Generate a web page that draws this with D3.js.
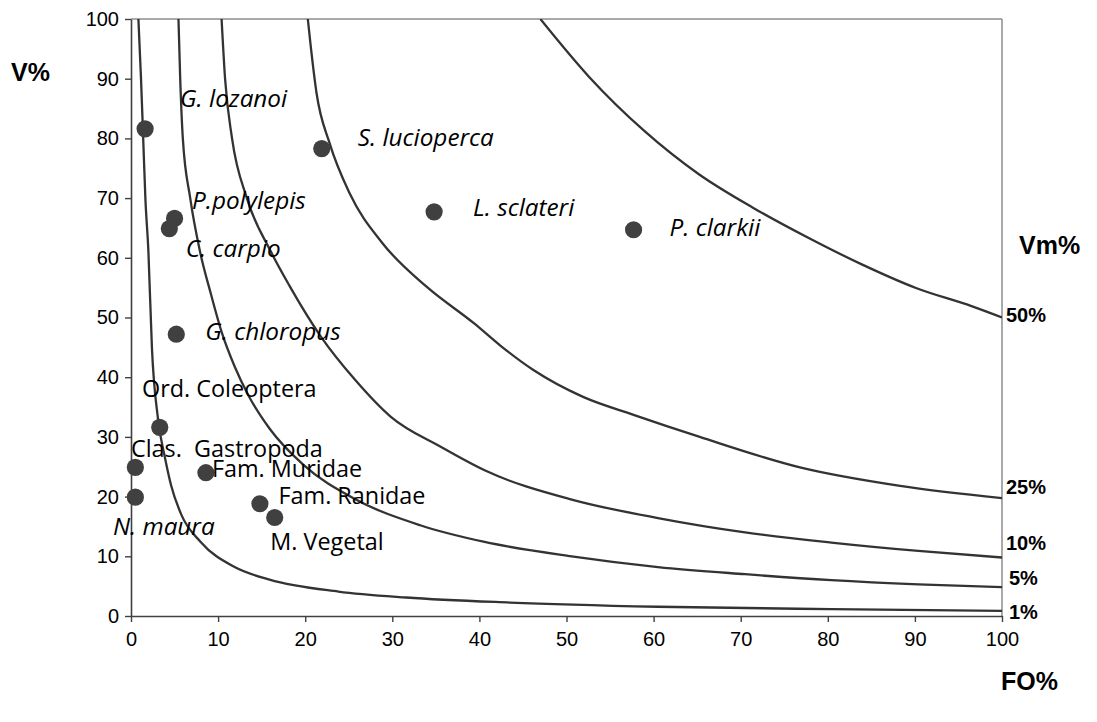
<!DOCTYPE html>
<html>
<head>
<meta charset="utf-8">
<script src="https://cdn.jsdelivr.net/npm/d3@7"></script>
<style>
  html, body { margin: 0; padding: 0; background: #fff; }
  svg { display: block; }
</style>
</head>
<body>
<svg id="chart" width="1097" height="722"></svg>
<script>
// Prey items: frequency of occurrence (FO%) and volume (V%)
const preyNames = ["G. lozanoi", "S. lucioperca", "L. sclateri", "P. clarkii", "P.polylepis",
  "C. carpio", "G. chloropus", "Ord. Coleoptera", "Clas.  Gastropoda", "Fam. Muridae",
  "Fam. Ranidae", "M. Vegetal", "N. maura"];
const preyFO = [1.62, 21.9, 34.8, 57.7, 5.0, 4.4, 5.2, 3.3, 0.5, 8.6, 14.8, 16.5, 0.5];
const preyV = [81.6, 78.3, 67.7, 64.7, 66.6, 64.9, 47.2, 31.6, 24.9, 24.0, 18.8, 16.5, 19.9];
const preyItalic = [true, true, true, true, true, true, true, false, false, false, false, false, true];

// Iso-lines of Vm% (FO, V pairs)
const vm50FO = [47, 52.6, 58.9, 65.2, 71.4, 77.7, 83.9, 90.2, 96.5, 100];
const vm50V = [100, 90.3, 81.3, 74.0, 68.4, 63.4, 58.9, 54.9, 51.9, 50];
const vm25FO = [20.3, 20.6, 21.3, 22.8, 25.1, 28.9, 33.9, 39.4, 42.4, 46.2, 51.9, 57.7, 65.3, 76.8, 88.3, 100];
const vm25V = [100, 95.9, 87.6, 79.2, 70.8, 62.4, 55.2, 49.0, 45.3, 41.2, 36.7, 33.7, 30.0, 24.9, 21.8, 19.75];
const vm10FO = [10.4, 10.8, 11.6, 13.3, 16.0, 18.2, 21.8, 25.7, 29.8, 35.6, 40.6, 50.6, 60.5, 70.5, 80.4, 90.4, 100];
const vm10V = [100, 90, 80, 70, 61.2, 55.3, 46.8, 39.6, 33.4, 28.3, 24.4, 19.5, 16.4, 14.0, 12.3, 10.9, 9.8];
const vm5FO = [5.45, 5.65, 5.95, 6.8, 7.9, 9.2, 10.4, 11.9, 13.5, 15.9, 19.8, 25.7, 33.2, 40.6, 50.6, 60.5, 70.5, 80.4, 90.4, 100];
const vm5V = [100, 90, 80, 70, 61.2, 53.8, 47.6, 41.8, 36.9, 31.4, 25.3, 19.6, 15.2, 12.4, 10.0, 8.2, 7.0, 6.0, 5.3, 4.85];
const vm1FO = [0.85, 1.15, 1.4, 1.65, 2.0, 2.4, 3.1, 3.9, 4.6, 5.8, 8.0, 11.9, 15.9, 23.8, 31.6, 43.5, 60.5, 80.4, 100];
const vm1V = [100, 90, 80, 70, 61, 45, 33, 26.5, 21.9, 16.9, 12.4, 8.2, 6.1, 4.1, 3.1, 2.25, 1.55, 1.15, 0.85];
const vmLabels = ["50%", "25%", "10%", "5%", "1%"];

const xTicks = [0, 10, 20, 30, 40, 50, 60, 70, 80, 90, 100];
const yTicks = [0, 10, 20, 30, 40, 50, 60, 70, 80, 90, 100];

// Label placement relative to each point (px)
const labelOffsets = [[35, -22], [36, -2.5], [39, 4], [36, 6.5], [17.5, -9.5], [16.5, 28.5],
  [29, 6], [-17.7, -30], [-4.4, -10], [6, 4.5], [18.5, 0], [-4.5, 32.5], [-22.4, 38]];

const svg = d3.select("#chart");
const plotLeft = 131, plotRight = 1002, plotTop = 19, plotBottom = 616;

const x = d3.scaleLinear().domain([0, 100]).range([plotLeft, plotRight]);
const y = d3.scaleLinear().domain([0, 100]).range([plotBottom, plotTop]);

const axisFont = "'Liberation Sans', Arial, sans-serif";
const labelFont = "'Open Sans', 'Noto Sans', sans-serif";

// Top and right borders
svg.append("line").attr("x1", plotLeft).attr("x2", plotRight).attr("y1", plotTop).attr("y2", plotTop)
  .attr("stroke", "#8c8c8c").attr("stroke-width", 1.5);
svg.append("line").attr("x1", plotRight).attr("x2", plotRight).attr("y1", plotTop).attr("y2", plotBottom)
  .attr("stroke", "#8c8c8c").attr("stroke-width", 1.5);

// Axes
const gx = svg.append("g").attr("transform", `translate(0,${plotBottom})`)
  .call(d3.axisBottom(x).tickValues(xTicks).tickSize(6).tickSizeOuter(0).tickPadding(10));
const gy = svg.append("g").attr("transform", `translate(${plotLeft},0)`)
  .call(d3.axisLeft(y).tickValues(yTicks).tickSize(6).tickSizeOuter(0).tickPadding(6));
[gx, gy].forEach(g => {
  g.select(".domain").attr("stroke", "#404040").attr("stroke-width", 1.6);
  g.selectAll(".tick line").attr("stroke", "#404040").attr("stroke-width", 1.4);
  g.selectAll(".tick text").attr("font-family", axisFont).attr("font-size", 20).attr("fill", "#000");
});

// Clip for the iso-lines
svg.append("clipPath").attr("id", "plot-clip")
  .append("rect").attr("x", plotLeft).attr("y", plotTop)
  .attr("width", plotRight - plotLeft).attr("height", plotBottom - plotTop);

const line = d3.line().x(d => x(d[0])).y(d => y(d[1])).curve(d3.curveMonotoneX);
const curves = [
  d3.zip(vm50FO, vm50V), d3.zip(vm25FO, vm25V), d3.zip(vm10FO, vm10V),
  d3.zip(vm5FO, vm5V), d3.zip(vm1FO, vm1V)
];
svg.append("g").attr("clip-path", "url(#plot-clip)")
  .selectAll("path").data(curves).join("path")
  .attr("d", line).attr("fill", "none").attr("stroke", "#333").attr("stroke-width", 2.3);

// Vm% labels at the right end of each iso-line
const vmLabelX = [1006, 1006, 1006, 1009, 1009];
const vmLabelDy = [4.5, -4, -7.5, -2, 8];
svg.append("g").selectAll("text").data(curves).join("text")
  .attr("x", (d, i) => vmLabelX[i])
  .attr("y", (d, i) => y(d[d.length - 1][1]) + vmLabelDy[i])
  .attr("font-family", axisFont).attr("font-weight", "bold").attr("font-size", 20)
  .text((d, i) => vmLabels[i]);

// Prey points
const prey = preyNames.map((n, i) => ({ name: n, fo: preyFO[i], v: preyV[i], italic: preyItalic[i], off: labelOffsets[i] }));
svg.append("g").selectAll("circle").data(prey).join("circle")
  .attr("cx", d => x(d.fo)).attr("cy", d => y(d.v)).attr("r", 8.6).attr("fill", "#404040");

svg.append("g").selectAll("text").data(prey).join("text")
  .attr("x", d => x(d.fo) + d.off[0]).attr("y", d => y(d.v) + d.off[1])
  .attr("font-family", labelFont)
  .attr("font-size", d => d.italic ? 24.3 : 23.4)
  .attr("font-style", d => d.italic ? "italic" : "normal")
  .style("white-space", "pre")
  .text(d => d.name);

// Axis titles
svg.append("text").attr("x", 11).attr("y", 81)
  .attr("font-family", axisFont).attr("font-weight", "bold").attr("font-size", 25).text("V%");
svg.append("text").attr("x", 1019).attr("y", 254)
  .attr("font-family", axisFont).attr("font-weight", "bold").attr("font-size", 25).text("Vm%");
svg.append("text").attr("x", 1001).attr("y", 690)
  .attr("font-family", axisFont).attr("font-weight", "bold").attr("font-size", 25).text("FO%");
</script>
</body>
</html>
